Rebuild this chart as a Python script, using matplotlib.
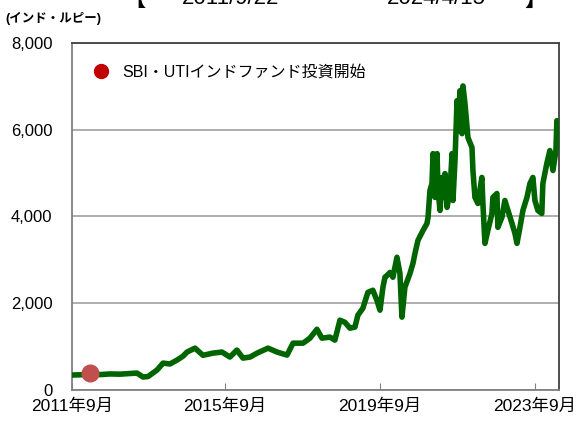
import matplotlib
matplotlib.use("Agg")
import matplotlib.pyplot as plt
from matplotlib.lines import Line2D
import pandas as pd

plt.rcParams['font.family'] = ['Liberation Sans', 'Noto Sans CJK JP', 'DejaVu Sans']

dates = [
    "2011-09-22", "2011-12-05", "2012-03-08", "2012-06-12", "2012-09-14", "2012-12-17",
    "2013-03-20", "2013-05-26", "2013-07-22", "2013-09-07", "2013-12-01", "2014-01-27",
    "2014-04-02", "2014-06-08", "2014-08-03", "2014-09-10", "2014-11-24", "2015-02-07",
    "2015-05-12", "2015-08-05", "2015-10-19", "2015-12-24", "2016-02-19", "2016-04-26",
    "2016-07-01", "2016-10-12", "2017-01-05", "2017-04-09", "2017-06-05", "2017-09-07",
    "2017-11-11", "2018-01-16", "2018-03-04", "2018-05-18", "2018-07-04", "2018-08-21",
    "2018-10-07", "2018-11-23", "2019-01-09", "2019-02-06", "2019-03-25", "2019-05-11",
    "2019-06-27", "2019-08-04", "2019-09-02", "2019-09-30", "2019-10-19", "2019-11-07",
    "2019-12-05", "2020-01-02", "2020-02-09", "2020-03-08", "2020-03-27", "2020-04-24",
    "2020-06-11", "2020-07-09", "2020-07-28", "2020-08-25", "2020-10-12", "2020-11-18",
    "2020-11-28", "2020-12-16", "2021-01-04", "2021-01-14", "2021-02-02", "2021-02-21",
    "2021-03-02", "2021-03-21", "2021-04-09", "2021-04-18", "2021-05-07", "2021-05-26",
    "2021-06-23", "2021-07-12", "2021-07-21", "2021-08-09", "2021-08-28", "2021-09-06",
    "2021-09-25", "2021-10-14", "2021-10-23", "2021-11-11", "2021-12-09", "2022-01-16",
    "2022-01-25", "2022-02-13", "2022-03-13", "2022-04-19", "2022-04-29", "2022-05-18",
    "2022-06-15", "2022-07-23", "2022-08-01", "2022-09-08", "2022-09-17", "2022-10-25",
    "2022-11-22", "2022-12-21", "2023-01-28", "2023-02-25", "2023-03-16", "2023-04-13",
    "2023-05-11", "2023-06-18", "2023-07-16", "2023-08-13", "2023-09-01", "2023-09-29",
    "2023-11-05", "2023-11-15", "2023-12-22", "2024-01-20", "2024-02-18", "2024-03-17",
    "2024-03-26", "2024-04-15",
]
values = [
    345, 350, 360, 355, 370, 365,
    380, 390, 300, 310, 460, 620,
    600, 690, 780, 875, 965, 800,
    850, 875, 760, 920, 735, 760,
    850, 965, 875, 805, 1080, 1080,
    1195, 1400, 1195, 1220, 1150, 1610,
    1560, 1425, 1450, 1725, 1885, 2250,
    2300, 2070, 1840, 2370, 2600, 2640,
    2710, 2600, 3060, 2690, 1680, 2370,
    2690, 2920, 3150, 3450, 3680, 3840,
    3980, 4600, 4760, 5450, 4440, 5450,
    4600, 4140, 4900, 4440, 4990, 4210,
    4600, 5450, 4370, 5290, 6670, 5980,
    6900, 5910, 7010, 6600, 5820, 5590,
    5060, 4440, 4300, 4900, 4300, 3380,
    3680, 4070, 4440, 4530, 3750, 3980,
    4370, 4140, 3840, 3610, 3380, 3750,
    4140, 4440, 4760, 4900, 4370, 4140,
    4070, 4760, 5220, 5520, 5060, 5520,
    6210, 5820,
]

start_date = "2012-03-08"
start_value = 400
legend_label = "SBI・UTIインドファンド投資開始"
tick_dates = ["2011-09-22", "2015-09-01", "2019-09-01", "2023-09-01"]
tick_labels = ["2011年9月", "2015年9月", "2019年9月", "2023年9月"]
y_ticks = [0, 2000, 4000, 6000, 8000]
period_start = "2011/9/22"
period_end = "2024/4/15"

x = pd.to_datetime(dates)

fig = plt.figure(figsize=(5.82, 4.22), dpi=100)
ax = fig.add_axes([72 / 582, 32 / 422, 487 / 582, 347 / 422])

ax.plot(x, values, color="#006400", lw=4.0, solid_joinstyle="round", solid_capstyle="round", zorder=3)
ax.plot(pd.to_datetime([start_date]), [start_value], "o", color="#C0504D", ms=12, zorder=4)

ax.set_xlim(pd.Timestamp(dates[0]), pd.Timestamp(dates[-1]))
ax.set_ylim(0, 8000)
ax.set_yticks(y_ticks)
ax.set_yticklabels([f"{v:,}" for v in y_ticks], fontsize=12)
ax.set_xticks(pd.to_datetime(tick_dates))
ax.set_xticklabels(tick_labels, fontsize=12.5)

ax.grid(axis="y", color="#A0A0A0", lw=1.2)
ax.set_axisbelow(True)
for s in ax.spines.values():
    s.set_color("#808080")
    s.set_linewidth(1.3)
ax.spines["top"].set_color("#404040")
ax.spines["right"].set_color("#404040")
ax.tick_params(axis="x", direction="in", length=5, color="#808080", pad=6)
ax.tick_params(axis="y", direction="in", length=0, pad=14)

handle = Line2D([], [], marker="o", color="#C00000", ls="", ms=10)
ax.legend([handle], [legend_label], loc="center left", bbox_to_anchor=(0.045, 0.916),
          frameon=False, fontsize=11.5, handlelength=0.9, handletextpad=0.85,
          borderpad=0, borderaxespad=0)

fig.text(5 / 582, 1 - 18 / 422, "(インド・ルピー)", fontsize=9, va="center", ha="left",
         fontweight="bold")

title_fs = 16
ty = 1 - 4 / 422
fig.text(134 / 582, 1 - 6 / 422, "【", fontsize=title_fs, ha="center", va="baseline", fontweight="bold")
fig.text(231 / 582, ty, period_start, fontsize=title_fs, ha="center", va="baseline")
fig.text(436 / 582, ty, period_end, fontsize=title_fs, ha="center", va="baseline")
fig.text(536 / 582, 1 - 6 / 422, "】", fontsize=title_fs, ha="center", va="baseline", fontweight="bold")

fig.savefig("out.png", dpi=100)
